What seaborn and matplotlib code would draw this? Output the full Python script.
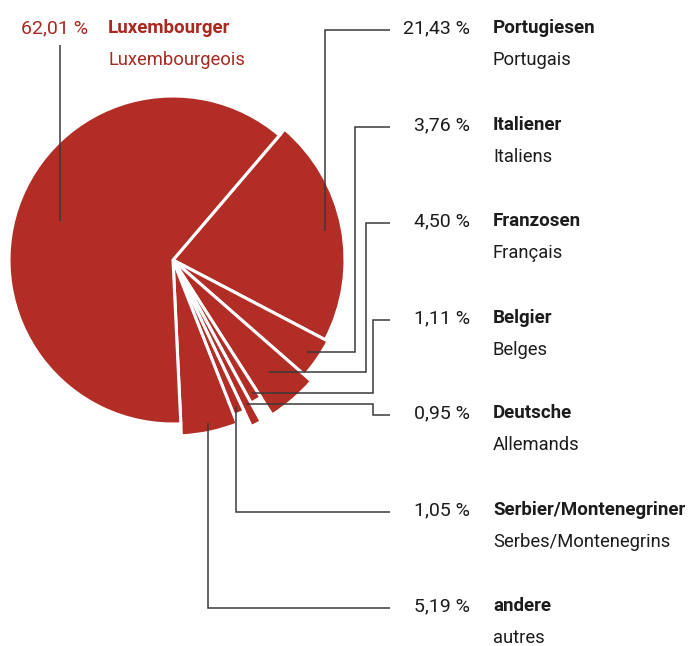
import numpy as np
import matplotlib.pyplot as plt
import seaborn as sns

# population shares by nationality (%)
groups_de = ['Portugiesen', 'Italiener', 'Franzosen', 'Belgier', 'Deutsche',
             'Serbier/Montenegriner', 'andere', 'Luxembourger']
groups_fr = ['Portugais', 'Italiens', 'Français', 'Belges', 'Allemands',
             'Serbes/Montenegrins', 'autres', 'Luxembourgeois']
shares = [21.43, 3.76, 4.50, 1.11, 0.95, 1.05, 5.19, 62.01]

# layout in pixels (figure is 692 x 646)
W, H = 692, 646
CX, CY = 173, 260
R = 164
radii = [172, 175, 184, 163, 184, 167, 176, 164]
explode = [0.02, 0, 0, 0, 0, 0, 0, 0]
row_y = [28, 125, 221, 318, 413, 510, 606, 28]
elbow_x = [None, 355, 366, 373, 373, None, None, None]
tip_frac = [0.9, 0.93, 0.8, 0.95, 0.88, 0.95, 0.95, 0.73]

RED = '#b32d27'
RED_TXT = '#a8291f'
INK = '#1c1c1c'
LINE = '#3a3a3a'
FS_PCT = 14
FS_BOLD = 13.5
FS_SUB = 13.2

sns.set_theme(style='white')
plt.rcParams['font.family'] = ['Roboto', 'DejaVu Sans']

fig = plt.figure(figsize=(W / 100, H / 100), dpi=100)
ax = fig.add_axes([0, 0, 1, 1])

# y axis points down, so counterclockwise in data = clockwise on screen
wedges, _ = ax.pie(shares, colors=[RED] * len(shares), startangle=-49.5,
                   counterclock=True, center=(CX, CY), radius=R, explode=explode,
                   wedgeprops=dict(edgecolor='white', linewidth=2.2))
for w, r in zip(wedges, radii):
    w.set_radius(r)

ax.set_xlim(0, W)
ax.set_ylim(H, 0)
ax.set_aspect('equal')
ax.axis('off')


def fmt(v):
    return f'{v:.2f}'.replace('.', ',') + ' %'


for i, w in enumerate(wedges):
    th = np.deg2rad((w.theta1 + w.theta2) / 2)
    cx, cy = w.center
    rr = w.r * tip_frac[i]
    tx, ty = cx + rr * np.cos(th), cy + rr * np.sin(th)
    ly = row_y[i]
    if groups_de[i] == 'Luxembourger':
        ax.plot([tx, tx], [45, ty], color=LINE, lw=1.1, solid_capstyle='butt')
        ax.text(88, ly, fmt(shares[i]), ha='right', va='center', fontsize=FS_PCT, color=RED_TXT)
        ax.text(108, ly, groups_de[i], ha='left', va='center', fontsize=FS_BOLD,
                fontweight='bold', color=RED_TXT)
        ax.text(108, ly + 32, groups_fr[i], ha='left', va='center', fontsize=FS_SUB, color=RED_TXT)
        continue
    yl = ly + 2
    if elbow_x[i] is None:
        xs, ys = [390, tx, tx], [yl, yl, ty]
    else:
        ex = elbow_x[i]
        xs, ys = [390, ex, ex, tx], [yl, yl, ty, ty]
    ax.plot(xs, ys, color=LINE, lw=1.1, solid_capstyle='butt', solid_joinstyle='miter')
    ax.text(470, ly, fmt(shares[i]), ha='right', va='center', fontsize=FS_PCT, color=INK)
    ax.text(493, ly, groups_de[i], ha='left', va='center', fontsize=FS_BOLD,
            fontweight='bold', color=INK)
    ax.text(493, ly + 32, groups_fr[i], ha='left', va='center', fontsize=FS_SUB, color=INK)

fig.savefig('out.png', dpi=100, facecolor='white')
